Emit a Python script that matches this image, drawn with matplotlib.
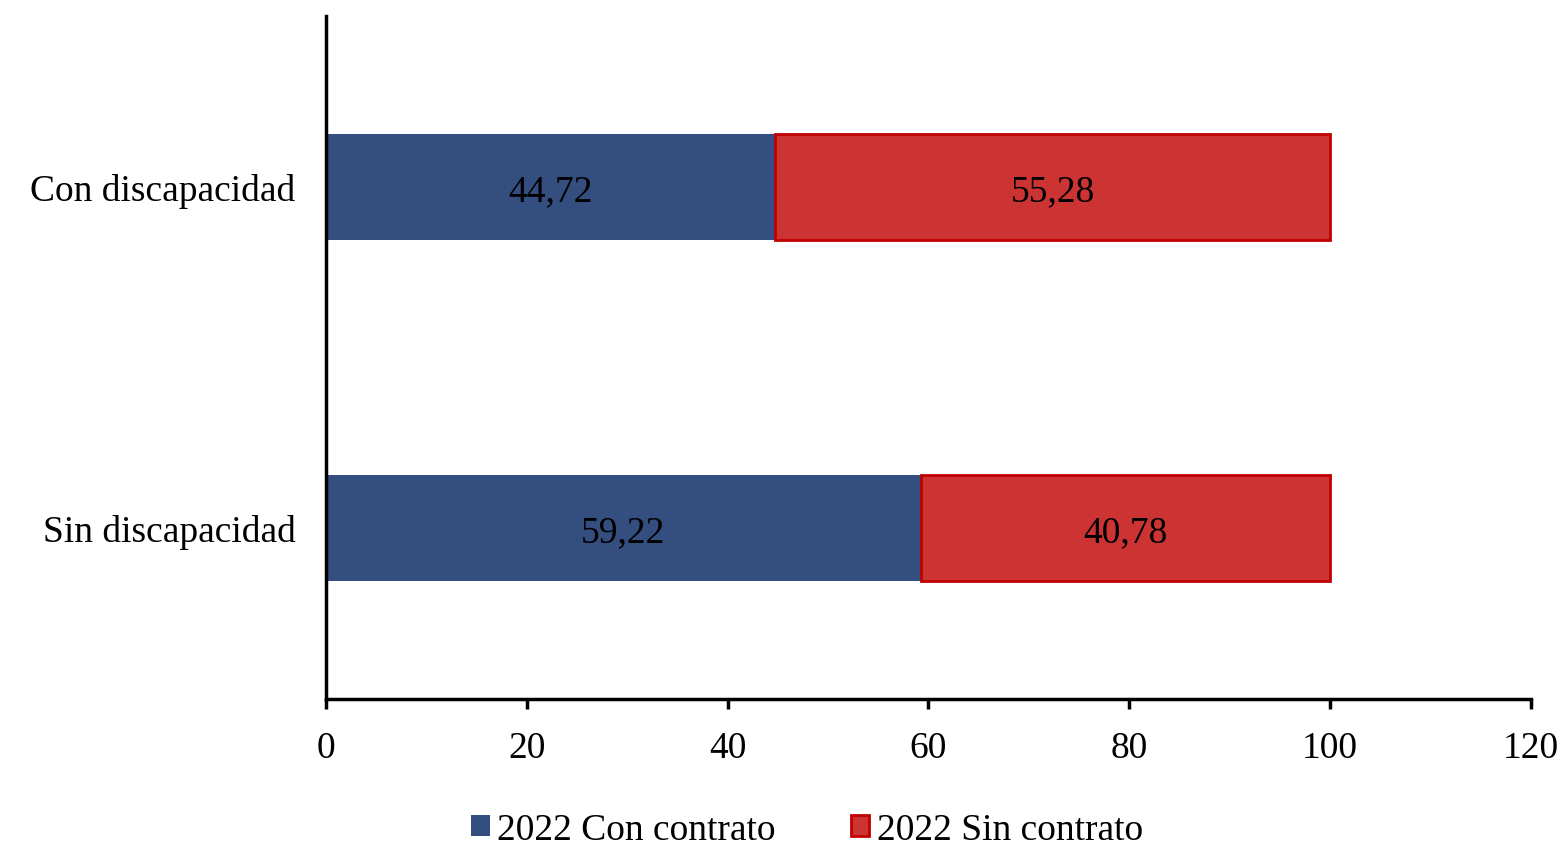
import matplotlib
matplotlib.use('Agg')
import matplotlib.pyplot as plt

plt.rcParams.update({
    'font.family': 'Liberation Serif',
    'font.size': 27,
})

categorias = ['Sin discapacidad', 'Con discapacidad']
con_contrato = [59.22, 44.72]
sin_contrato = [40.78, 55.28]
series_labels = ['2022 Con contrato', '2022 Sin contrato']
xticks = [0, 20, 40, 60, 80, 100, 120]

azul = '#344E80'
rojo = '#CC3333'
borde_rojo = '#C00000'

fig = plt.figure(figsize=(15.67, 8.45), dpi=100)
ax = fig.add_axes([0.208, 0.172, 0.769, 0.808])

ypos = list(range(len(categorias)))
b1 = ax.barh(ypos, con_contrato, height=0.31, color=azul,
             label=series_labels[0])
b2 = ax.barh(ypos, sin_contrato, left=con_contrato, height=0.31,
             color=rojo, edgecolor=borde_rojo, linewidth=2,
             label=series_labels[1])

# data labels centred in each segment, decimal comma
for bars in (b1, b2):
    for r in bars:
        xc = r.get_x() + r.get_width() / 2
        yc = r.get_y() + r.get_height() / 2
        ax.annotate(f'{r.get_width():.2f}'.replace('.', ','), (xc, yc),
                    xytext=(0, -3), textcoords='offset points',
                    ha='center', va='center', fontsize=27)

ax.set_xlim(0, 120)
ax.set_ylim(-0.5, 1.5)
ax.set_xticks(xticks)
ax.set_yticks(ypos)
ax.set_yticklabels(categorias)

for s in ['top', 'right']:
    ax.spines[s].set_visible(False)
for s in ['left', 'bottom']:
    ax.spines[s].set_linewidth(2.5)

ax.tick_params(axis='y', length=0, pad=22)
ax.tick_params(axis='x', length=7, width=2.5, direction='out', pad=16)

fig.legend(handles=[b1, b2], loc='center', bbox_to_anchor=(0.515, 0.017),
           ncol=2, frameon=False, handlelength=0.5, handleheight=0.5,
           handletextpad=0.2, columnspacing=2.0, fontsize=27)

fig.savefig('out.png', dpi=100, facecolor='white')
